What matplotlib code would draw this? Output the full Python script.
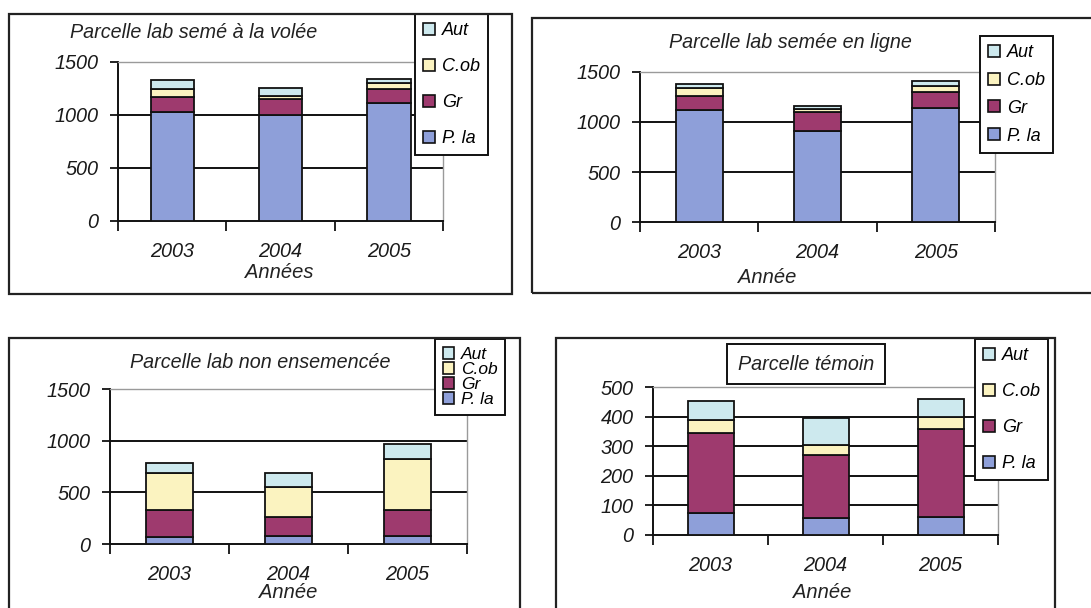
import matplotlib
matplotlib.use("Agg")
import matplotlib.pyplot as plt
from matplotlib.patches import Rectangle, Patch

plt.rcParams['font.family'] = ['Liberation Sans', 'DejaVu Sans']
plt.rcParams['font.style'] = 'italic'

W, H = 1091, 608

years = ['2003', '2004', '2005']
species = ['P. la', 'Gr', 'C.ob', 'Aut']
colors = ['#8e9fd9', '#9e3a6e', '#fbf3c0', '#cde9ee']

# values (stacked, bottom to top)
vol_pla = [1030, 1000, 1110]
vol_gr = [140, 145, 130]
vol_cob = [70, 35, 60]
vol_aut = [85, 70, 35]

lig_pla = [1120, 910, 1135]
lig_gr = [140, 185, 160]
lig_cob = [75, 35, 60]
lig_aut = [40, 30, 55]

non_pla = [65, 80, 80]
non_gr = [260, 185, 245]
non_cob = [360, 290, 500]
non_aut = [100, 135, 140]

tem_pla = [75, 55, 60]
tem_gr = [270, 215, 300]
tem_cob = [45, 35, 40]
tem_aut = [65, 90, 60]


def fx(px):
    return px / W


def fy(py):
    return 1 - py / H


def frame(fig, x0, y0, x1, y1):
    fig.patches.append(Rectangle((fx(x0), fy(y1)), fx(x1 - x0), (y1 - y0) / H,
                                 transform=fig.transFigure, fill=False,
                                 ec='#222222', lw=1.6, zorder=0))


def panel(fig, box, series, ymax, step, title, title_xy, xlabel, xlabel_xy,
          leg_xy, leg_space, leg_size=13, title_box=False):
    x0, y0, x1, y1 = box
    ax = fig.add_axes([fx(x0), fy(y1), fx(x1 - x0), (y1 - y0) / H])
    bottom = [0, 0, 0]
    xs = range(len(years))
    for vals, col in zip(series, colors):
        ax.bar(xs, vals, 0.4, bottom=bottom, color=col, edgecolor='#111111',
               lw=1.3, zorder=3)
        bottom = [b + v for b, v in zip(bottom, vals)]
    ax.set_xlim(-0.5, 2.5)
    ax.set_ylim(0, ymax)
    ticks = list(range(0, ymax + 1, step))
    ax.set_yticks(ticks)
    for t in ticks[1:-1]:
        ax.axhline(t, color='#111111', lw=1.4, zorder=1)
    ax.set_xticks([-0.5, 0.5, 1.5, 2.5])
    ax.set_xticklabels([])
    ax.set_xticks(list(xs), minor=True)
    ax.set_xticklabels(years, minor=True)
    ax.tick_params(axis='x', which='major', direction='out', length=7,
                   width=1.3, color='#111111')
    ax.tick_params(axis='x', which='minor', length=0, pad=15, labelsize=14.3,
                   labelcolor='#1a1a1a')
    ax.tick_params(axis='y', direction='out', length=6, width=1.3,
                   color='#111111', pad=8, labelsize=14.3, labelcolor='#1a1a1a')
    for s in ['top', 'right']:
        ax.spines[s].set_color('#9a9a9a')
        ax.spines[s].set_linewidth(1.0)
    for s in ['left', 'bottom']:
        ax.spines[s].set_color('#111111')
        ax.spines[s].set_linewidth(1.4)
    ax.set_facecolor('none')

    kw = dict(ha='center', va='center', fontsize=14.2, color='#222222')
    if title_box:
        kw['bbox'] = dict(boxstyle='square,pad=0.55', fc='white', ec='#111111', lw=1.4)
    fig.text(fx(title_xy[0]), fy(title_xy[1]), title, **kw)
    fig.text(fx(xlabel_xy[0]), fy(xlabel_xy[1]), xlabel, ha='center',
             va='center', fontsize=14.5, color='#222222')

    handles = [Patch(fc=c, ec='#111111', lw=1.2) for c in colors][::-1]
    leg = ax.legend(handles, species[::-1], loc='upper left',
                    bbox_to_anchor=(fx(leg_xy[0]), fy(leg_xy[1])),
                    bbox_transform=fig.transFigure, fontsize=leg_size,
                    handlelength=0.65, handleheight=0.65, handletextpad=0.4,
                    labelspacing=leg_space, borderpad=0.45, borderaxespad=0,
                    fancybox=False, framealpha=1, edgecolor='#111111')
    leg.get_frame().set_linewidth(1.4)
    return ax


fig = plt.figure(figsize=(W / 100, H / 100), dpi=100)

frame(fig, 9, 14, 512, 294)
frame(fig, 532, 18, 1100, 293)
frame(fig, 9, 338, 520, 620)
frame(fig, 556, 338, 1055, 620)

panel(fig, (118, 61.7, 443, 220.7), [vol_pla, vol_gr, vol_cob, vol_aut],
      1500, 500, 'Parcelle lab semé à la volée', (194, 33), 'Années', (279, 273),
      (415, 14), 1.05)
panel(fig, (640, 71.7, 995, 222.3), [lig_pla, lig_gr, lig_cob, lig_aut],
      1500, 500, 'Parcelle lab semée en ligne', (790, 43), 'Année', (767, 277),
      (980, 36), 0.6)
panel(fig, (110, 389.3, 467, 544), [non_pla, non_gr, non_cob, non_aut],
      1500, 500, 'Parcelle lab non ensemencée', (260, 362), 'Année', (288, 592),
      (435, 339), 0.0, leg_size=12.5)
panel(fig, (653, 387.3, 998, 534.7), [tem_pla, tem_gr, tem_cob, tem_aut],
      500, 100, 'Parcelle témoin', (806, 364), 'Année', (822, 593),
      (975, 339), 1.05, title_box=True)

fig.savefig('out.png', dpi=100, facecolor='white')
